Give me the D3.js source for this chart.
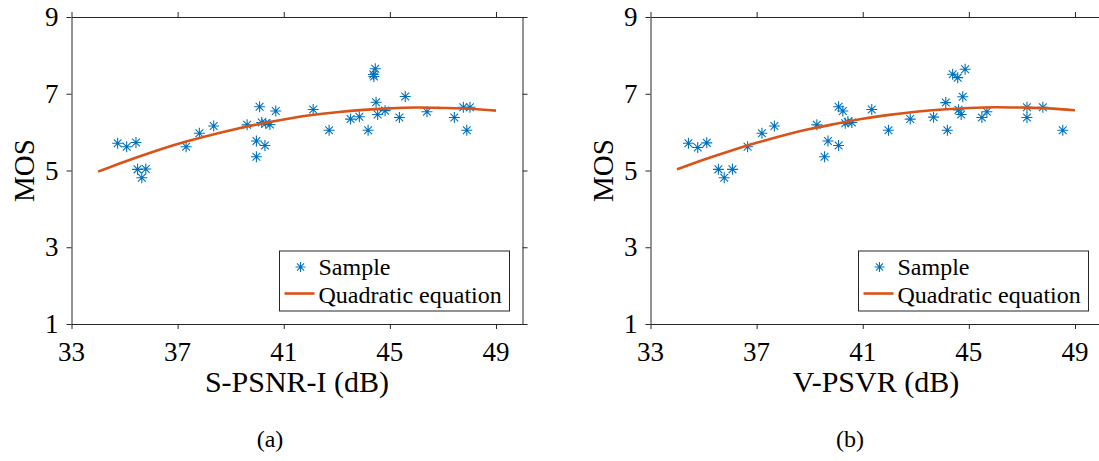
<!DOCTYPE html>
<html>
<head>
<meta charset="utf-8">
<script src="https://cdn.jsdelivr.net/npm/d3@7"></script>
<style>
  html, body { margin: 0; padding: 0; background: #fff; }
  svg { display: block; }
</style>
</head>
<body>
<svg id="fig" width="1099" height="461"></svg>
<script>
// ---- data ----
const xTicks = [33, 37, 41, 45, 49];
const yTicks = [1, 3, 5, 7, 9];

// (a) S-PSNR-I vs MOS samples
const spsnrX = [34.74, 35.08, 35.43, 35.49, 35.80, 35.65, 37.32, 37.82, 38.36, 39.62,
                40.09, 40.70, 40.17, 40.32, 40.48, 39.97, 40.29, 39.97,
                42.11, 42.71, 43.52, 43.85, 44.18, 44.45, 44.38, 44.40, 44.48, 44.54,
                44.82, 45.36, 45.58, 46.40, 47.43, 47.77, 48.02, 47.90];
const spsnrMOS = [5.71, 5.62, 5.73, 5.03, 5.04, 4.81, 5.62, 5.97, 6.16, 6.19,
                  6.66, 6.55, 6.25, 6.23, 6.20, 5.77, 5.65, 5.36,
                  6.59, 6.05, 6.34, 6.40, 6.05, 7.65, 7.50, 7.45, 6.78, 6.46,
                  6.56, 6.38, 6.93, 6.53, 6.38, 6.65, 6.65, 6.05];
// (a) fitted quadratic curve
const spsnrFitX = [34, 35, 36, 37, 38, 39, 40, 41, 42, 43, 44, 45, 46, 47, 48, 49];
const spsnrFitY = [4.97, 5.23, 5.47, 5.69, 5.88, 6.05, 6.20, 6.33, 6.44, 6.52, 6.58, 6.62, 6.64, 6.63, 6.61, 6.56];

// (b) V-PSVR vs MOS samples
const vpsvrX = [34.43, 34.78, 35.12, 35.56, 36.09, 35.78, 36.66, 37.20, 37.67, 39.27,
                39.69, 40.09, 39.56, 40.09, 40.25, 40.34, 40.44, 40.59, 41.34,
                41.97, 42.79, 43.67, 44.13, 44.19, 44.39, 44.58, 44.86, 44.77, 44.61,
                44.71, 45.49, 45.68, 47.19, 47.19, 47.79, 48.54];
const vpsvrMOS = [5.71, 5.60, 5.72, 5.03, 5.03, 4.81, 5.62, 5.97, 6.16, 6.19,
                  5.77, 5.65, 5.36, 6.66, 6.55, 6.23, 6.27, 6.25, 6.59,
                  6.05, 6.34, 6.39, 6.77, 6.05, 7.51, 7.42, 7.64, 6.92, 6.58,
                  6.46, 6.38, 6.53, 6.65, 6.38, 6.65, 6.05];
// (b) fitted quadratic curve
const vpsvrFitX = [34, 35, 36, 37, 38, 39, 40, 41, 42, 43, 44, 45, 46, 47, 48, 49];
const vpsvrFitY = [5.03, 5.28, 5.51, 5.72, 5.91, 6.08, 6.22, 6.35, 6.45, 6.53, 6.59, 6.63, 6.65, 6.64, 6.62, 6.57];

const legendLabels = ["Sample", "Quadratic equation"];
const xLabels = ["S-PSNR-I (dB)", "V-PSVR (dB)"];
const yLabel = "MOS";
const captions = ["(a)", "(b)"];

// ---- drawing ----
const BLUE = "#0072BD", ORANGE = "#D95319", AXIS = "#262626";
const FONT = "Liberation Serif";
const svg = d3.select("#fig");
const textLayer = svg.append("g");   // all text lives in one untransformed layer

const panels = [
  { left: 71.5, right: 522.5, xs: spsnrX, ys: spsnrMOS, fx: spsnrFitX, fy: spsnrFitY,
    xLabel: xLabels[0], caption: captions[0], captionX: 270, legendX: 279.5 },
  { left: 650.5, right: 1101.5, xs: vpsvrX, ys: vpsvrMOS, fx: vpsvrFitX, fy: vpsvrFitY,
    xLabel: xLabels[1], caption: captions[1], captionX: 850, legendX: 858.5 }
];
const plotTop = 17, plotBottom = 324;

function asterisk(r) {
  const d = r * 0.7071;
  return `M${-r},0L${r},0M0,${-r}L0,${r}M${-d},${-d}L${d},${d}M${-d},${d}L${d},${-d}`;
}

function label(x, y, str, size, anchor) {
  return textLayer.append("text")
    .attr("x", x).attr("y", y)
    .attr("text-anchor", anchor || "start")
    .attr("font-family", FONT)
    .attr("font-size", size)
    .style("font-family", `"${FONT}"`)
    .style("font-size", size + "px")
    .attr("fill", "#000")
    .text(str);
}

panels.forEach(p => {
  const x = d3.scaleLinear().domain([33, 50]).range([p.left, p.right]);
  const y = d3.scaleLinear().domain([1, 9]).range([plotBottom, plotTop]);
  const g = svg.insert("g", ":first-child");

  // axis box with outward ticks on all four sides (labels drawn separately)
  const styleAxis = sel => {
    sel.selectAll("path.domain").attr("stroke", AXIS).attr("stroke-width", 1);
    sel.selectAll(".tick line").attr("stroke", AXIS).attr("stroke-width", 1);
    sel.selectAll(".tick text").remove();
  };
  g.append("g").attr("transform", `translate(0,${plotBottom})`)
    .call(d3.axisBottom(x).tickValues(xTicks).tickSize(5).tickSizeOuter(0)).call(styleAxis);
  g.append("g").attr("transform", `translate(0,${plotTop})`)
    .call(d3.axisTop(x).tickValues(xTicks).tickSize(5).tickSizeOuter(0)).call(styleAxis);
  g.append("g").attr("transform", `translate(${p.left},0)`)
    .call(d3.axisLeft(y).tickValues(yTicks).tickSize(5).tickSizeOuter(0)).call(styleAxis);
  g.append("g").attr("transform", `translate(${p.right},0)`)
    .call(d3.axisRight(y).tickValues(yTicks).tickSize(5).tickSizeOuter(0)).call(styleAxis);

  // tick labels from the scales
  xTicks.forEach(v => label(x(v), 361, String(v), 27, "middle"));
  yTicks.forEach(v => label(p.left - 13, y(v) + 9, String(v), 27, "end"));

  // samples
  g.append("g").selectAll("path")
    .data(d3.zip(p.xs, p.ys))
    .join("path")
    .attr("transform", d => `translate(${x(d[0])},${y(d[1])})`)
    .attr("d", asterisk(5.5))
    .attr("fill", "none")
    .attr("stroke", BLUE)
    .attr("stroke-width", 1.1);

  // fitted curve
  const line = d3.line().x(d => x(d[0])).y(d => y(d[1])).curve(d3.curveNatural);
  g.append("path")
    .datum(d3.zip(p.fx, p.fy))
    .attr("d", line)
    .attr("fill", "none")
    .attr("stroke", ORANGE)
    .attr("stroke-width", 2.6);

  // axis titles
  label((p.left + p.right) / 2, 392, p.xLabel, 30, "middle");
  label(0, 0, yLabel, 29, "middle")
    .attr("transform", `translate(${p.left - 37.5},${(plotTop + plotBottom) / 2}) rotate(-90)`);

  // legend
  const lx = p.legendX, ly = 251;
  g.append("rect").attr("x", lx).attr("y", ly).attr("width", 230).attr("height", 60)
    .attr("fill", "#fff").attr("stroke", AXIS).attr("stroke-width", 1);
  g.append("path").attr("transform", `translate(${lx + 21},${ly + 16})`)
    .attr("d", asterisk(5)).attr("fill", "none").attr("stroke", BLUE).attr("stroke-width", 1.1);
  g.append("line").attr("x1", lx + 5).attr("x2", lx + 35).attr("y1", ly + 42.5).attr("y2", ly + 42.5)
    .attr("stroke", ORANGE).attr("stroke-width", 2.6);
  label(lx + 39, ly + 24, legendLabels[0], 24);
  label(lx + 39, ly + 52, legendLabels[1], 24);

  // sub-figure caption
  label(p.captionX, 447, p.caption, 24, "middle");
});
</script>
</body>
</html>
